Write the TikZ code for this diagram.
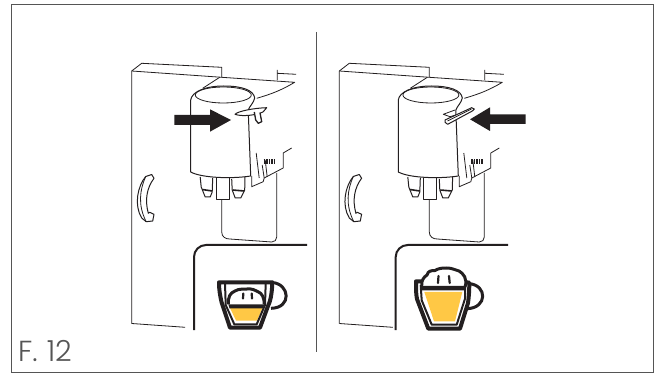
\documentclass[tikz,border=0pt]{standalone}
\usepackage{fontspec}
\usepackage{tikz}
\newfontfamily\figfont{Poppins Light}
\definecolor{frameg}{HTML}{555555}
\definecolor{inkk}{HTML}{231F20}
\definecolor{coffee}{HTML}{FFC845}

\begin{document}
\begin{tikzpicture}[
  x=1pt, y=-1pt,
  frameline/.style={draw=frameg, line width=1pt},
  thinline/.style={draw=inkk, line width=0.8pt, line join=round},
  jugline/.style={draw=inkk, line width=1pt, line join=round},
  panelline/.style={draw=inkk, line width=2pt, rounded corners=12pt},
  cupline/.style={draw=inkk, line width=4pt, line join=round},
  glassline/.style={draw=inkk, line width=2pt, line join=round},
  foamline/.style={draw=inkk, line width=3pt, line join=round},
  dropline/.style={draw=inkk, line width=2.2pt, line cap=round},
  arrowfill/.style={fill=inkk, draw=none},
  machine/.pic={
    % door and shelf
    \draw[thinline] (0,323.5) -- (0,71) -- (10,63.3) -- (90,67.3) -- (90,77.3);
    \draw[thinline] (0,71) -- (90,77.3) -- (163,82.3) .. controls (150,90) and (140,94) .. (125,98.3);
    \draw[thinline] (0,323.5) -- (53.5,327.3);
    \draw[thinline] (88,77.3) -- (71,88.3);
    \draw[thinline] (145.5,80) -- (145.5,70) (145.5,73.3) -- (164.5,74.3);
    % jug
    \draw[jugline] (59,100) .. controls (60,92) and (73,86) .. (92,86)
      .. controls (110,86) and (122,90) .. (123,98) .. controls (122,103) and (118,106) .. (116.5,110) -- (119,176);
    \draw[thinline] (91.6,95) ellipse[x radius=28, y radius=8];
    \draw[jugline] (59,100) -- (59,172) .. controls (70,178) and (100,179) .. (119,176);
    \draw[thinline] (124.5,153) -- (127.5,178);
    % nozzles
    \draw[jugline] (84.5,178) -- (84.5,199.3) -- (97.5,199.3) -- (97.5,178);
    \draw[jugline] (68.5,177) -- (69.5,187) -- (71.5,192) -- (73.5,197) -- (78.5,197) -- (80.5,192) -- (81,178);
    \draw[inkk, line width=1.6pt] (70.5,189.5) -- (80.5,191);
    \draw[jugline] (100,179) -- (100.5,190) -- (103.5,198) -- (109,198) -- (113,190) -- (113.3,177);
    \draw[inkk, line width=1.6pt] (101,190) -- (112.5,191);
    % tank
    \draw[thinline] (90,199.3) -- (90,232) .. controls (90,237) and (94,239) .. (98,239)
      -- (140,242) .. controls (143,242) and (145,240) .. (145,237) -- (145,173);
    % side bracket
    \draw[thinline] (120,176) -- (120,186.7) -- (131.5,181.7) -- (132.5,178);
    \draw[thinline] (132.5,178) -- (151.5,168) -- (151.5,153) -- (160,148);
    \draw[thinline] (130.5,165) -- (132.5,178) (133.5,160) -- (135.5,177);
    \draw[inkk, line width=5pt, dash pattern=on 1.6pt off 0.9pt] (132,161.5) -- (143.5,161.5);
    % handle
    \draw[jugline, fill=white] (14,176.5) .. controls (6,186) and (2,205) .. (10,218) -- (14.5,221.7) -- (21,221)
      -- (22.3,214.3) -- (18,212.3) -- (16.6,213.3) .. controls (13,200) and (15,188) .. (22.3,178.3) -- (20,174.5) -- cycle;
    \draw[thinline] (14,176.5) .. controls (8,190) and (6,205) .. (14.5,221.7);
  }
]
\useasboundingbox (0,0) rectangle (659,374);
\fill[white] (0,0) rectangle (659,374);
\draw[frameline] (11.5,4.3) rectangle (653.5,372);
\draw[frameline] (316.5,32) -- (316.5,352);
\node[anchor=base west, inner sep=0pt, font=\figfont\fontsize{29}{29}\selectfont, text=frameg] (figlabel) at (18,361) {F.\hspace{9pt}12};

\pic at (131.7,0) {machine};
\pic at (339.3,0) {machine};

% left lever and arrow
\draw[jugline, fill=white] (235,114.3) .. controls (238,111) and (255,108) .. (266.7,107.7) -- (263.3,111.7)
  .. controls (258,115) and (242,117) .. (235,114.3) -- cycle;
\draw[jugline, fill=white, line width=1.3pt] (254.3,112) -- (255.7,120) -- (258.3,123.3) -- (261.7,121.7) -- (260,112.7);
\fill[arrowfill] (174.3,115) -- (210,115) -- (210,109.3) -- (231,120) -- (210,131.7) -- (210,125) -- (174.3,125) -- cycle;
% right lever and arrow
\draw[thinline] (455,110) -- (443.3,114.3) -- (450,116.7) -- (455.7,115);
\draw[jugline, fill=white] (445,120) -- (471.7,107.7) -- (474.3,109) -- (472.3,111) -- (447.7,124.3) -- (445,122.3) -- cycle;
\draw[thinline] (447.5,121) -- (471.5,109);
\fill[arrowfill] (525.7,114.5) -- (490,114.5) -- (490,107.3) -- (470,119.3) -- (490,131) -- (490,124) -- (525.7,124) -- cycle;

% panels
\draw[panelline] (194,330) -- (194,245) -- (307,245);
\draw[panelline] (395.7,330) -- (395.7,245) -- (508,245);

% left cup
\fill[coffee] (230,308) -- (262.5,308) -- (257,320.5) -- (236,320.5) -- cycle;
\fill[inkk] (228.3,304.3) -- (264.3,304.3) -- (263,308.3) -- (229.5,308.3) -- cycle;
\draw[foamline] (228.3,304.3) .. controls (228,297) and (230,293) .. (235,291) .. controls (239,288.5) and (243,289.5) .. (247,289)
  .. controls (252,288.5) and (255,290) .. (258,291.7) .. controls (262,293) and (264.3,298) .. (264.3,304.3);
\draw[dropline] (243.3,293.5) -- (243,298.5) (251.7,293.5) -- (252,298.5);
\draw[glassline] (225,283.3) -- (225.7,305) -- (234.3,324.3) -- (256.7,324.3) -- (265,305) -- (265.7,283.3);
\draw[cupline, line width=3pt] (272.3,282.5) .. controls (290,284) and (292,308) .. (271,308.3);
\draw[cupline] (219,282.3) -- (272.3,282.3) .. controls (272,295) and (270,302) .. (268,306) -- (260,327.7) -- (230,327.7)
  -- (221.5,302) .. controls (220,295) and (219,290) .. (219,282.3) -- cycle;

% right cup
\fill[coffee] (424.3,292) -- (462.3,292) -- (455,321.3) -- (434,321.3) -- cycle;
\fill[inkk] (421.7,286) -- (465,286) -- (464.5,290.3) -- (422,290.3) -- cycle;
\draw[foamline] (421.7,287) .. controls (421,280) and (424,277) .. (427,275) .. controls (428,271) and (431,270.5) .. (435,270.5)
  .. controls (439,268) and (443,268) .. (447,268) .. controls (452,268) and (455,270) .. (459,271) .. controls (463,273) and (468,279) .. (465,287);
\draw[dropline] (438.5,276) -- (438,283) (449,276) -- (449.7,283);
\draw[glassline] (420.7,285.3) -- (421.7,300.3) -- (431.7,324.7) -- (456.7,324.7) -- (465,298.7) -- (465,287);
\draw[cupline, line width=3pt] (469.3,283.7) .. controls (487,285) and (488,308) .. (467,308.7);
\draw[cupline] (421,281.3) -- (416,281.3) .. controls (416,290) and (416,294) .. (417,299) -- (428.3,328.7) -- (460,328.7)
  -- (468,303) .. controls (469,296) and (469.3,290) .. (469.3,282.7) -- (465,282);
\end{tikzpicture}
\end{document}
